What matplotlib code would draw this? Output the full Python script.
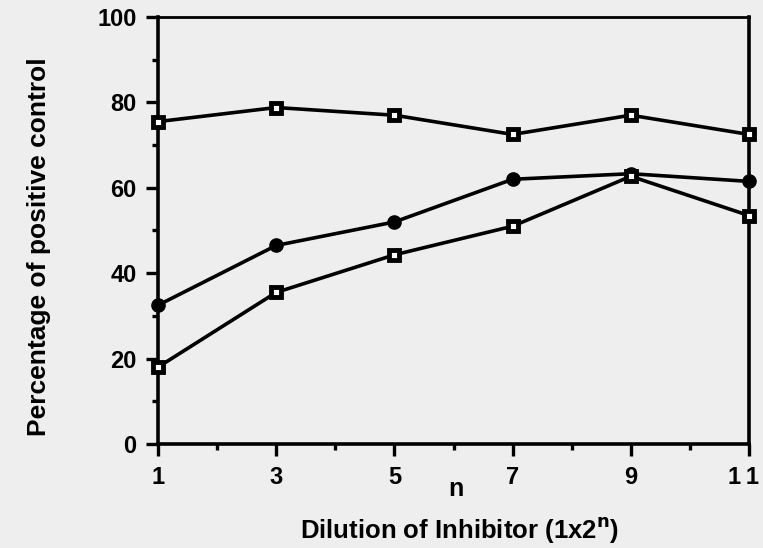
import matplotlib
matplotlib.use("Agg")
import matplotlib.pyplot as plt
import matplotlib.transforms as mtransforms
from matplotlib.ticker import MultipleLocator

plt.rcParams['font.family'] = ['Liberation Sans', 'DejaVu Sans']
plt.rcParams['font.weight'] = 'bold'

n_values = [1, 3, 5, 7, 9, 11]
series_top = [75.5, 78.8, 77.0, 72.5, 77.0, 72.5]
series_circle = [32.5, 46.5, 52.0, 62.0, 63.3, 61.5]
series_bottom = [18.0, 35.5, 44.3, 51.0, 62.7, 53.5]
xtick_labels = ['1', '3', '5', '7', '9', '1\u20091']
yticks = [0, 20, 40, 60, 80, 100]

W, H = 763, 548
bg = '#eeeeee'
fig = plt.figure(figsize=(W/100, H/100), dpi=100, facecolor=bg)
L, R, T, B = 158, 749, 17, 444
ax = fig.add_axes([L/W, 1-B/H, (R-L)/W, (B-T)/H])
ax.set_facecolor(bg)

lw = 2.6
ax.plot(n_values, series_top, color='black', lw=lw, marker='s', ms=7,
        mfc='white', mec='black', mew=3.5, zorder=3, clip_on=False)
ax.plot(n_values, series_circle, color='black', lw=lw, marker='o', ms=9.5,
        mfc='black', mec='black', zorder=3, clip_on=False)
ax.plot(n_values, series_bottom, color='black', lw=lw, marker='s', ms=7,
        mfc='white', mec='black', mew=3.5, zorder=3, clip_on=False)

ax.set_xlim(1, 11)
ax.set_ylim(0, 100)
ax.set_xticks(n_values)
ax.set_xticklabels(xtick_labels)
ax.set_yticks(yticks)
ax.xaxis.set_minor_locator(MultipleLocator(1))
ax.yaxis.set_minor_locator(MultipleLocator(10))

for s in ['left', 'bottom', 'right']:
    ax.spines[s].set_linewidth(2.6)
ax.spines['top'].set_linewidth(2.0)

ax.tick_params(axis='both', which='major', direction='out', length=8.5, width=2.4,
               labelsize=17, colors='black')
ax.tick_params(axis='both', which='minor', direction='out', length=4.5, width=2.4)
ax.tick_params(axis='x', which='major', pad=7)
ax.tick_params(axis='y', which='major', pad=7)
for lbl in ax.get_xticklabels() + ax.get_yticklabels():
    lbl.set_fontweight('bold')

# nudge the last x tick label slightly left so it stays inside the figure
last = ax.get_xticklabels()[-1]
last.set_transform(last.get_transform() +
                   mtransforms.ScaledTranslation(-6/100, 0, fig.dpi_scale_trans))

ax.text(6.04, -10.5, 'n', ha='center', va='center', fontsize=18, fontweight='bold',
        transform=ax.transData, clip_on=False)
fig.text(460/W, 1-530/H, 'Dilution of Inhibitor (1x2$^{\\mathbf{n}}$)', fontsize=18.5,
         fontweight='bold', ha='center', va='center')
fig.text(39/W, 1-247/H, 'Percentage of positive control', fontsize=19,
         fontweight='bold', ha='center', va='center', rotation=90)

fig.savefig('out.png', dpi=100, facecolor=bg)
